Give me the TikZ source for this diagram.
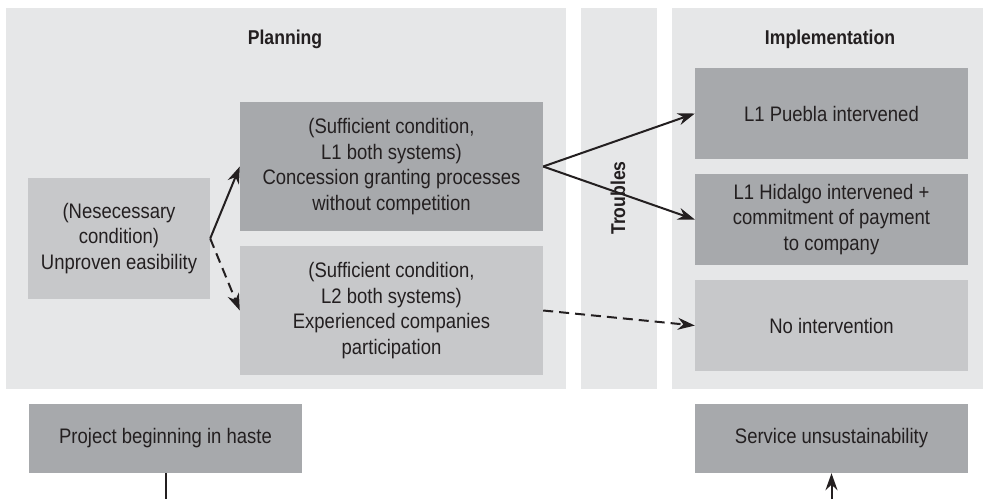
\documentclass[tikz,border=0pt]{standalone}
\usepackage{fontspec}
\setmainfont{Liberation Sans}[FakeStretch=0.88]
\usetikzlibrary{arrows.meta}
\definecolor{panelbg}{HTML}{E6E7E8}
\definecolor{darkbox}{HTML}{A7A9AC}
\definecolor{lightbox}{HTML}{C7C8CA}
\definecolor{ink}{HTML}{231F20}
\tikzset{
  panel/.style={fill=panelbg, draw=none, inner sep=0pt, anchor=north west},
  boxbase/.style={draw=none, inner sep=0pt, align=center, text=ink,
    font=\fontsize{21}{25.5}\selectfont},
  darkbx/.style={boxbase, fill=darkbox},
  lightbx/.style={boxbase, fill=lightbox},
  title/.style={text=ink, font=\bfseries\fontsize{20}{24}\selectfont, inner sep=0pt},
  conn/.style={draw=ink, line width=2pt, -{Stealth[length=17pt,width=12pt]}},
  dconn/.style={conn, dash pattern=on 10pt off 6pt},
  plain/.style={draw=ink, line width=2pt},
}
\begin{document}
\begin{tikzpicture}[x=1pt,y=-1pt]
\useasboundingbox (0,0) rectangle (983,499);
% panels
\node[panel, minimum width=560pt, minimum height=381pt] (planp) at (6,8) {};
\node[panel, minimum width=76pt, minimum height=381pt] (troubp) at (581,8) {};
\node[panel, minimum width=311pt, minimum height=381pt] (implp) at (672,8) {};
% titles
\node[title] (plant) at (285,39) {Planning};
\node[title] (implt) at (830,39) {Implementation};
\node[title, rotate=90] (troubt) at (618,198) {Troubles};
% boxes
\node[lightbx, minimum width=182pt, minimum height=121pt] (nec) at (119,238.5)
  {(Nesecessary\\condition)\\Unproven easibility};
\node[darkbx, minimum width=303pt, minimum height=129pt] (suf1) at (391.5,166.5)
  {(Sufficient condition,\\L1 both systems)\\Concession granting processes\\without competition};
\node[lightbx, minimum width=303pt, minimum height=129pt] (suf2) at (391.5,310.5)
  {(Sufficient condition,\\L2 both systems)\\Experienced companies\\participation};
\node[darkbx, minimum width=273pt, minimum height=91pt] (pue) at (831.5,113.5)
  {L1 Puebla intervened};
\node[darkbx, minimum width=273pt, minimum height=91pt] (hid) at (831.5,219.5)
  {L1 Hidalgo intervened +\\commitment of payment\\to company};
\node[lightbx, minimum width=273pt, minimum height=91pt] (noint) at (831.5,325.5)
  {No intervention};
\node[darkbx, minimum width=273pt, minimum height=69pt] (haste) at (165.5,438.5)
  {Project beginning in haste};
\node[darkbx, minimum width=273pt, minimum height=69pt] (unsus) at (831.5,438.5)
  {Service unsustainability};
% free ends
\coordinate (hasteend) at (165.5,499);
\coordinate (unsusstart) at (831.5,499);
% connectors
\draw[conn] (nec.east) -- (suf1.west);
\draw[dconn] (nec.east) -- (suf2.west);
\draw[conn] (suf1.east) -- (pue.west);
\draw[conn] (suf1.east) -- (hid.west);
\draw[dconn] (suf2.east) -- (noint.west);
\draw[plain] (haste.south) -- (hasteend);
\draw[conn] (unsusstart) -- (unsus.south);
\end{tikzpicture}
\end{document}
